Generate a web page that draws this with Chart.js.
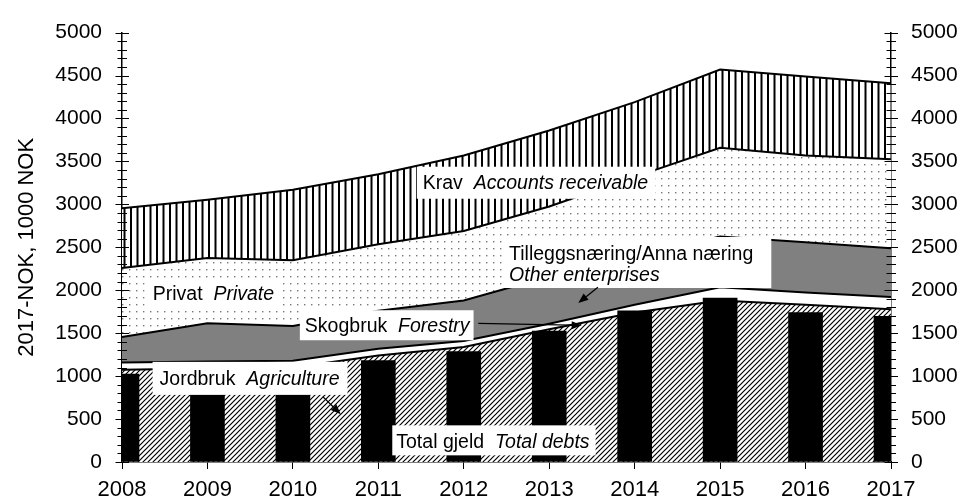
<!DOCTYPE html>
<html>
<head>
<meta charset="utf-8">
<script src="https://cdn.jsdelivr.net/npm/chart.js@4.4.0/dist/chart.umd.min.js"></script>
<style>
  html, body { margin: 0; padding: 0; background: #fff; }
  #wrap { width: 967px; height: 503px; }
</style>
</head>
<body>
<div id="wrap"><canvas id="gjeldChart"></canvas></div>
<script>
const years = ['2008', '2009', '2010', '2011', '2012', '2013', '2014', '2015', '2016', '2017'];
const firstYear = 2008;

// layers of the stacked area (1000 NOK)
const jordbruk = [1075, 1090, 1100, 1240, 1340, 1545, 1740, 1880, 1830, 1780];
const skogbruk = [85, 80, 80, 80, 70, 65, 90, 155, 145, 140];
const tillegg = [295, 445, 405, 440, 470, 550, 570, 590, 585, 570];
const privat = [805, 760, 765, 775, 810, 815, 920, 1035, 1010, 1035];
const krav = [695, 680, 820, 815, 880, 885, 870, 910, 920, 885];

// black bars
const totalGjeld = [1025, 1000, 1020, 1180, 1285, 1525, 1760, 1910, 1740, 1695];

const yTickValues = [0, 500, 1000, 1500, 2000, 2500, 3000, 3500, 4000, 4500, 5000];

const FONT = '"Liberation Sans", Arial, sans-serif';
const canvas = document.getElementById('gjeldChart');
const ctx = canvas.getContext('2d');

function makePattern(w, h, draw) {
  const c = document.createElement('canvas');
  c.width = w;
  c.height = h;
  const g = c.getContext('2d');
  g.fillStyle = '#fff';
  g.fillRect(0, 0, w, h);
  draw(g);
  return ctx.createPattern(c, 'repeat');
}

const hatch = makePattern(5, 5, g => {
  g.strokeStyle = '#000';
  g.lineWidth = 1.2;
  g.beginPath();
  g.moveTo(0, 5); g.lineTo(5, 0);
  g.moveTo(-1, 1); g.lineTo(1, -1);
  g.moveTo(4, 6); g.lineTo(6, 4);
  g.stroke();
});

const stripes = makePattern(13, 4, g => {
  g.fillStyle = '#000';
  g.fillRect(0, 0, 2, 4);
  g.fillRect(6.5, 0, 2, 4);
});

const dots = makePattern(7, 7, g => {
  g.fillStyle = '#777';
  g.fillRect(3, 3, 1.4, 1.4);
});

// text boxes, placed in data units (year, value); text left + baseline
const notes = [
  { x: 2011.52, y: 3182, pad: [6, 7, 22, 10], lines: [[['Krav  ', false], ['Accounts receivable', true]]] },
  { x: 2012.53, y: 2352, pad: [6, 18, 23, 7], lines: [[['Tilleggsnæring/Anna næring', false]], [['Other enterprises', true]]] },
  { x: 2008.36, y: 1886, pad: [8, 8, 22, 9], lines: [[['Privat  ', false], ['Private', true]]] },
  { x: 2010.14, y: 1511, pad: [5, 4, 22, 8], lines: [[['Skogbruk  ', false], ['Forestry', true]]] },
  { x: 2008.44, y: 898, pad: [7, 8, 23, 10], lines: [[['Jordbruk  ', false], ['Agriculture', true]]] },
  { x: 2011.21, y: 159, pad: [4, 6, 23, 7], lines: [[['Total gjeld  ', false], ['Total debts', true]]] },
];

const arrows = [
  { from: [2013.57, 2034], to: [2013.34, 1852] },
  { from: [2012.17, 1614], to: [2013.38, 1591] },
  { from: [2010.35, 761], to: [2010.56, 557] },
];

const noteFont = italic => (italic ? 'italic ' : '') + '19.5px ' + FONT;

const notesPlugin = {
  id: 'notes',
  afterDatasetsDraw(chart) {
    const { ctx, scales: { x, y } } = chart;
    ctx.save();
    ctx.textBaseline = 'alphabetic';
    notes.forEach(n => {
      const px = x.getPixelForValue(n.x - firstYear);
      const py = y.getPixelForValue(n.y);
      let w = 0;
      n.lines.forEach(line => {
        let lw = 0;
        line.forEach(([t, it]) => { ctx.font = noteFont(it); lw += ctx.measureText(t).width; });
        w = Math.max(w, lw);
      });
      const [pl, pr, pt, pb] = n.pad;
      const gap = 21;
      ctx.fillStyle = '#fff';
      ctx.fillRect(px - pl, py - pt, w + pl + pr, (n.lines.length - 1) * gap + pt + pb);
      ctx.fillStyle = '#000';
      n.lines.forEach((line, i) => {
        let cx = px;
        line.forEach(([t, it]) => {
          ctx.font = noteFont(it);
          ctx.fillText(t, cx, py + i * gap);
          cx += ctx.measureText(t).width;
        });
      });
    });
    ctx.strokeStyle = '#000';
    ctx.fillStyle = '#000';
    ctx.lineWidth = 1.3;
    arrows.forEach(a => {
      const x1 = x.getPixelForValue(a.from[0] - firstYear), y1 = y.getPixelForValue(a.from[1]);
      const x2 = x.getPixelForValue(a.to[0] - firstYear), y2 = y.getPixelForValue(a.to[1]);
      const ang = Math.atan2(y2 - y1, x2 - x1);
      const len = 10, half = 4;
      const bx = x2 - len * Math.cos(ang), by = y2 - len * Math.sin(ang);
      ctx.beginPath();
      ctx.moveTo(x1, y1);
      ctx.lineTo(bx, by);
      ctx.stroke();
      ctx.beginPath();
      ctx.moveTo(x2, y2);
      ctx.lineTo(bx + half * Math.sin(ang), by - half * Math.cos(ang));
      ctx.lineTo(bx - half * Math.sin(ang), by + half * Math.cos(ang));
      ctx.closePath();
      ctx.fill();
    });
    ctx.restore();
  }
};

// crossing major/minor ticks on both value axes
const axisTicksPlugin = {
  id: 'axisTicks',
  afterDraw(chart) {
    const { ctx, chartArea, scales: { y } } = chart;
    ctx.save();
    ctx.strokeStyle = '#000';
    ctx.lineWidth = 1;
    [chartArea.left, chartArea.right].forEach(ax => {
      for (let v = y.min; v <= y.max; v += 100) {
        const py = Math.round(y.getPixelForValue(v)) + 0.5;
        const major = v % 500 === 0;
        ctx.beginPath();
        ctx.moveTo(ax - (major ? 6.5 : 4.5), py);
        ctx.lineTo(ax + (major ? 7 : 5), py);
        ctx.stroke();
      }
    });
    ctx.restore();
  }
};

const areaStyle = {
  type: 'line',
  borderColor: '#000',
  borderWidth: 2,
  pointRadius: 0,
  tension: 0,
  order: 1,
};

const valueTicks = {
  color: '#000',
  font: { size: 21, family: FONT },
  padding: 20,
  callback: v => String(v),
};

new Chart(canvas, {
  type: 'bar',
  data: {
    labels: years,
    datasets: [
      { ...areaStyle, label: 'Jordbruk', data: jordbruk, backgroundColor: hatch, fill: 'origin' },
      { ...areaStyle, label: 'Skogbruk', data: skogbruk, backgroundColor: '#fff', fill: '-1' },
      { ...areaStyle, label: 'Tilleggsnæring', data: tillegg, backgroundColor: '#808080', fill: '-1' },
      { ...areaStyle, label: 'Privat', data: privat, backgroundColor: dots, fill: '-1' },
      { ...areaStyle, label: 'Krav', data: krav, backgroundColor: stripes, fill: '-1' },
      { type: 'bar', label: 'Total gjeld', data: totalGjeld, backgroundColor: '#000', barThickness: 34, order: 0 },
    ]
  },
  options: {
    responsive: true,
    maintainAspectRatio: false,
    animation: false,
    layout: { padding: { top: 22, left: 0, right: 0, bottom: 0 } },
    plugins: {
      legend: { display: false },
      tooltip: { enabled: false },
    },
    scales: {
      x: {
        offset: false,
        z: 1,
        grid: { offset: false, drawOnChartArea: false, tickLength: 7, color: '#000' },
        border: { color: '#000', width: 1.5 },
        ticks: { color: '#000', font: { size: 22, family: FONT }, padding: 8, maxRotation: 0, autoSkip: false },
        afterFit: s => { s.height = 41; },
      },
      y: {
        position: 'left',
        stacked: true,
        min: 0,
        max: 5000,
        z: 1,
        afterBuildTicks: s => { s.ticks = yTickValues.map(v => ({ value: v })); },
        grid: { drawOnChartArea: false, drawTicks: false },
        border: { color: '#000', width: 1.5 },
        ticks: valueTicks,
        title: {
          display: true,
          text: '2017-NOK, 1000 NOK',
          color: '#000',
          font: { size: 22, family: FONT },
          padding: { top: 14, bottom: 0 },
        },
        afterFit: s => { s.width = 122; },
      },
      y2: {
        position: 'right',
        min: 0,
        max: 5000,
        z: 1,
        afterBuildTicks: s => { s.ticks = yTickValues.map(v => ({ value: v })); },
        grid: { drawOnChartArea: false, drawTicks: false },
        border: { color: '#000', width: 1.5 },
        ticks: valueTicks,
        afterFit: s => { s.width = 76; },
      },
    }
  },
  plugins: [notesPlugin, axisTicksPlugin]
});
</script>
</body>
</html>
